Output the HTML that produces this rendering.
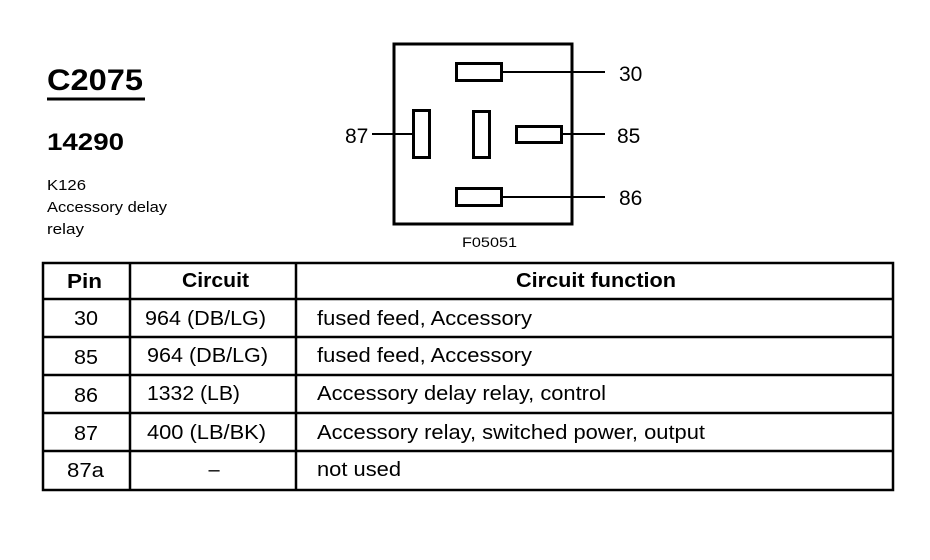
<!DOCTYPE html>
<html><head><meta charset="utf-8"><style>
html,body{margin:0;padding:0;background:#fff;}
svg{display:block;font-family:"Liberation Sans",Arial,sans-serif;}
</style></head><body>
<svg width="930" height="560" viewBox="0 0 930 560" xmlns="http://www.w3.org/2000/svg">
<rect width="930" height="560" fill="#fff"/>
<text x="47" y="90" font-size="30" font-weight="bold" fill="#000" textLength="96" lengthAdjust="spacingAndGlyphs">C2075</text>
<line x1="47" y1="99" x2="145" y2="99" stroke="#000" stroke-width="3"/>
<text x="47" y="150" font-size="24" font-weight="bold" fill="#000" textLength="77" lengthAdjust="spacingAndGlyphs">14290</text>
<text x="47" y="190" font-size="15" fill="#000" textLength="39" lengthAdjust="spacingAndGlyphs">K126</text>
<text x="47" y="212" font-size="15" fill="#000" textLength="120" lengthAdjust="spacingAndGlyphs">Accessory delay</text>
<text x="47" y="234" font-size="15" fill="#000" textLength="37" lengthAdjust="spacingAndGlyphs">relay</text>
<g fill="none" stroke="#000">
<rect x="394" y="44" width="178" height="180" stroke-width="3"/>
<rect x="456.5" y="63.5" width="45" height="17" stroke-width="3"/>
<rect x="413.5" y="110.5" width="16" height="47" stroke-width="3"/>
<rect x="473.5" y="111.5" width="16" height="46" stroke-width="3"/>
<rect x="516.5" y="126.5" width="45" height="16" stroke-width="3"/>
<rect x="456.5" y="188.5" width="45" height="17" stroke-width="3"/>
<line x1="502" y1="72" x2="605" y2="72" stroke-width="2"/>
<line x1="562" y1="134" x2="605" y2="134" stroke-width="2"/>
<line x1="502" y1="197" x2="605" y2="197" stroke-width="2"/>
<line x1="372" y1="134" x2="413" y2="134" stroke-width="2"/>
</g>
<g font-size="21" fill="#000">
<text x="619" y="81">30</text>
<text x="617" y="143">85</text>
<text x="619" y="205">86</text>
<text x="345" y="143">87</text>
</g>
<text x="462" y="247" font-size="14" fill="#000" textLength="55" lengthAdjust="spacingAndGlyphs">F05051</text>
<g stroke="#000" stroke-width="2.5" fill="none">
<rect x="43" y="263" width="850" height="227"/>
<line x1="130" y1="263" x2="130" y2="490"/>
<line x1="296" y1="263" x2="296" y2="490"/>
<line x1="43" y1="299" x2="893" y2="299"/>
<line x1="43" y1="337" x2="893" y2="337"/>
<line x1="43" y1="375" x2="893" y2="375"/>
<line x1="43" y1="413" x2="893" y2="413"/>
<line x1="43" y1="451" x2="893" y2="451"/>
</g>
<g font-size="20" fill="#000">
<text x="67" y="288" font-weight="bold" textLength="35" lengthAdjust="spacingAndGlyphs">Pin</text>
<text x="182" y="287" font-weight="bold" textLength="67" lengthAdjust="spacingAndGlyphs">Circuit</text>
<text x="516" y="287" font-weight="bold" textLength="160" lengthAdjust="spacingAndGlyphs">Circuit function</text>
<text x="74" y="325" textLength="24" lengthAdjust="spacingAndGlyphs">30</text>
<text x="74" y="364" textLength="24" lengthAdjust="spacingAndGlyphs">85</text>
<text x="74" y="402" textLength="24" lengthAdjust="spacingAndGlyphs">86</text>
<text x="74" y="440" textLength="24" lengthAdjust="spacingAndGlyphs">87</text>
<text x="67" y="477" textLength="37" lengthAdjust="spacingAndGlyphs">87a</text>
<text x="145" y="325" textLength="121" lengthAdjust="spacingAndGlyphs">964 (DB/LG)</text>
<text x="147" y="362" textLength="121" lengthAdjust="spacingAndGlyphs">964 (DB/LG)</text>
<text x="147" y="400" textLength="93" lengthAdjust="spacingAndGlyphs">1332 (LB)</text>
<text x="147" y="439" textLength="119" lengthAdjust="spacingAndGlyphs">400 (LB/BK)</text>
<text x="214" y="476" text-anchor="middle">–</text>
<text x="317" y="325" textLength="215" lengthAdjust="spacingAndGlyphs">fused feed, Accessory</text>
<text x="317" y="362" textLength="215" lengthAdjust="spacingAndGlyphs">fused feed, Accessory</text>
<text x="317" y="400" textLength="289" lengthAdjust="spacingAndGlyphs">Accessory delay relay, control</text>
<text x="317" y="439" textLength="388" lengthAdjust="spacingAndGlyphs">Accessory relay, switched power, output</text>
<text x="317" y="476" textLength="84" lengthAdjust="spacingAndGlyphs">not used</text>
</g>
</svg>
</body></html>
